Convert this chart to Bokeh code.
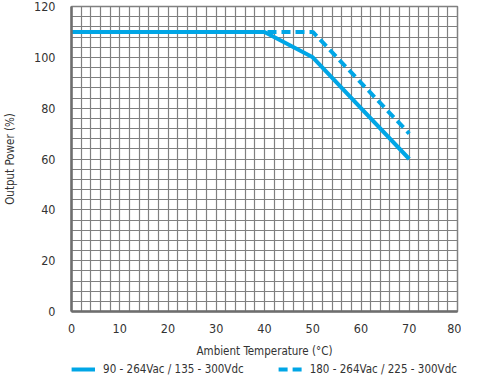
from bokeh.plotting import figure
from bokeh.models import SingleIntervalTicker, Legend, LegendItem, Range1d
from bokeh.layouts import column
from bokeh.embed import file_html
from bokeh.resources import INLINE

# data
temp_a = [0, 40, 50, 70]
power_a = [110, 110, 100, 60]
temp_b = [0, 50, 70]
power_b = [110, 110, 70]
label_a = "90 - 264Vac / 135 - 300Vdc"
label_b = "180 - 264Vac / 225 - 300Vdc"

FONT = "'DejaVu Sans Condensed', 'Roboto', sans-serif"
BLUE = "#00a6e6"
DASH = "9 5"

p = figure(width=461, height=360, output_backend="svg", toolbar_location=None,
           x_range=Range1d(0, 80), y_range=Range1d(0, 120),
           min_border_left=64, min_border_right=4, min_border_top=6, min_border_bottom=40)
p.outline_line_color = "#808080"
p.outline_line_width = 1.5

l1 = p.line(temp_a, power_a, line_color=BLUE, line_width=4)
l2 = p.line(temp_b, power_b, line_color=BLUE, line_width=4, line_dash=DASH)

p.xaxis.ticker = SingleIntervalTicker(interval=10)
p.yaxis.ticker = SingleIntervalTicker(interval=20)
p.xgrid.ticker = SingleIntervalTicker(interval=2)
p.ygrid.ticker = SingleIntervalTicker(interval=4)
for g in (p.xgrid, p.ygrid):
    g.grid_line_color = "#808080"
    g.grid_line_width = 1.2
    g.grid_line_alpha = 1.0

for ax in (p.xaxis, p.yaxis):
    ax.axis_line_color = "#6e6e6e"
    ax.axis_line_width = 2.5
    ax.major_tick_line_color = None
    ax.minor_tick_line_color = None
    ax.major_label_text_font = FONT
    ax.major_label_text_font_size = "12.5px"
    ax.major_label_text_color = "#333333"
    ax.axis_label_text_font = FONT
    ax.axis_label_text_font_size = "11.5px"
    ax.axis_label_text_font_style = "normal"
    ax.axis_label_text_color = "#333333"
p.xaxis.major_label_standoff = 6
p.yaxis.major_label_standoff = 10
p.xaxis.axis_label = "Ambient Temperature (°C)"
p.yaxis.axis_label = "Output Power (%)"
p.xaxis.axis_label_standoff = 8
p.yaxis.axis_label_standoff = 14

# legend strip below (lines drawn outside its visible range)
q = figure(width=461, height=18, output_backend="svg", toolbar_location=None,
           x_range=Range1d(-20, -10), y_range=Range1d(-20, -10),
           x_axis_location=None, y_axis_location=None,
           min_border_left=64, min_border_right=4, min_border_top=0, min_border_bottom=0)
q.outline_line_color = None
q.xgrid.visible = False
q.ygrid.visible = False
m1 = q.line(temp_a, power_a, line_color=BLUE, line_width=4)
m2 = q.line(temp_b, power_b, line_color=BLUE, line_width=4, line_dash=DASH)
legend = Legend(items=[LegendItem(label=label_a, renderers=[m1]),
                       LegendItem(label=label_b, renderers=[m2])],
                orientation="horizontal", location="center",
                label_text_font=FONT, label_text_font_size="11.5px",
                label_text_color="#333333", glyph_width=24, glyph_height=14,
                spacing=34, padding=0, margin=0, label_standoff=8,
                border_line_color=None, background_fill_alpha=0)
q.add_layout(legend, "center")

layout = column(p, q, spacing=0)
open("out.html", "w").write(file_html(layout, INLINE))
